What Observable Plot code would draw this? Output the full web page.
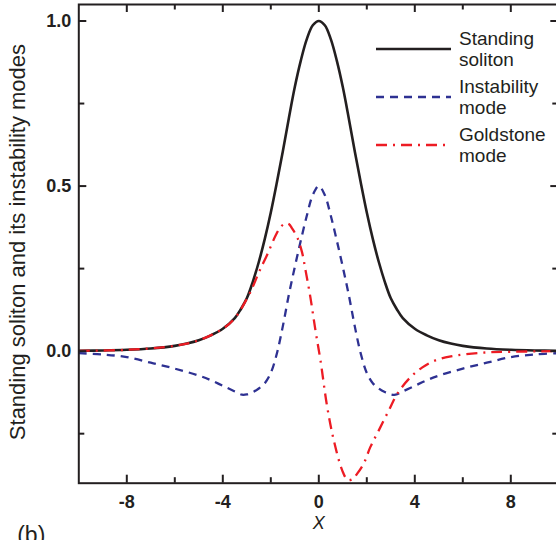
<!DOCTYPE html>
<html>
<head>
<meta charset="utf-8">
<script src="https://cdn.jsdelivr.net/npm/d3@7"></script>
<script src="https://cdn.jsdelivr.net/npm/@observablehq/plot@0.6"></script>
<style>
  html, body { margin: 0; padding: 0; background: #fff; overflow: hidden; }
  #wrap { position: relative; width: 556px; height: 540px; font-family: "Liberation Sans", Arial, Helvetica, sans-serif; }
  #legend { position: absolute; left: 376px; top: 28px; font-size: 19px; line-height: 21px; color: #231f20; }
  .row { display: flex; align-items: center; height: 42px; margin-bottom: 6px; }
  .row svg { display: block; margin-right: 8px; }
</style>
</head>
<body>
<div id="wrap"><div id="legend"></div></div>
<script>
// ---- data ----
const solitonX = [-10,-9,-8,-7,-6,-5.5,-5,-4.5,-4,-3.5,-3.25,-3,-2.75,-2.5,-2.25,-2,-1.75,-1.5,-1.25,-1,-0.75,-0.5,-0.25,0,
                  0.25,0.5,0.75,1,1.25,1.5,1.75,2,2.25,2.5,2.75,3,3.25,3.5,4,4.5,5,5.5,6,7,8,9,10];
const solitonY = [0.001,0.002,0.004,0.008,0.016,0.023,0.033,0.048,0.068,0.1,0.127,0.16,0.21,0.27,0.34,0.42,0.51,0.605,0.705,0.8,0.88,0.945,0.987,1.0,
                  0.987,0.945,0.88,0.8,0.705,0.605,0.51,0.42,0.34,0.27,0.21,0.16,0.127,0.1,0.068,0.048,0.033,0.023,0.016,0.008,0.004,0.002,0.001];

const instabX = [-10,-9,-8,-7,-6,-5,-4.5,-4,-3.5,-3.2,-3,-2.75,-2.5,-2.25,-2,-1.75,-1.5,-1.25,-1,-0.75,-0.5,-0.25,0,
                 0.25,0.5,0.75,1,1.25,1.5,1.75,2,2.25,2.5,2.75,3,3.2,3.5,4,4.5,5,6,7,8,9,10];
const instabY = [-0.006,-0.01,-0.018,-0.035,-0.053,-0.074,-0.088,-0.105,-0.122,-0.132,-0.131,-0.124,-0.113,-0.097,-0.066,-0.008,0.075,0.17,0.255,0.335,0.41,0.473,0.5,
                 0.473,0.41,0.335,0.255,0.17,0.075,-0.008,-0.066,-0.097,-0.113,-0.124,-0.131,-0.132,-0.122,-0.105,-0.088,-0.074,-0.053,-0.035,-0.018,-0.01,-0.006];

const goldX = [-10,-8,-6,-5,-4,-3.5,-3,-2.75,-2.5,-2.15,-1.8,-1.6,-1.4,-1.25,-1.1,-0.9,-0.7,-0.55,-0.35,-0.14,0.07,0.35,0.625,0.975,1.2,1.4,1.6,1.875,2.15,2.5,2.92,3.27,3.82,4.3,4.86,5.5,6.74,8,10];
const goldY = [0.001,0.004,0.016,0.033,0.068,0.1,0.158,0.195,0.238,0.292,0.35,0.375,0.387,0.385,0.37,0.345,0.3,0.244,0.163,0.063,-0.028,-0.169,-0.27,-0.361,-0.39,-0.388,-0.371,-0.34,-0.29,-0.24,-0.179,-0.129,-0.079,-0.05,-0.028,-0.016,-0.005,-0.002,0];

const seriesNames = ["Standing soliton", "Instability mode", "Goldstone mode"];
const legendLines = [["Standing", "soliton"], ["Instability", "mode"], ["Goldstone", "mode"]];
const seriesColors = ["#231f20", "#2e3192", "#ed1c24"];
const seriesDash = [null, "8,6", "11,6,2,6"];
const seriesWidth = [2.6, 2.3, 2.3];

const xTicksMajor = [-8, -4, 0, 4, 8];
const xTicksMinor = [-6, -2, 2, 6];
const yTicksMajor = [0, 0.5, 1.0];
const yTicksMinor = [-0.25, 0.25, 0.75];

const yLabel = "Standing soliton and its instability modes";
const xLabel = "X";
const panelLabel = "(b)";

// ---- build ----
const zip = (xs, ys) => xs.map((x, i) => ({x, y: ys[i]}));
const series = [zip(solitonX, solitonY), zip(instabX, instabY), zip(goldX, goldY)];

const W = 556, H = 540;
const mt = 4, mb = 57.3, ml = 78.3, mr = -2.3;
const innerH = H - mt - mb;
const innerW = W - ml - mr;
const axisColor = "#231f20";
const font = "'Liberation Sans', Arial, Helvetica, sans-serif";

const chart = Plot.plot({
  width: W,
  height: H,
  marginTop: mt,
  marginBottom: mb,
  marginLeft: ml,
  marginRight: mr,
  style: {fontFamily: font, background: "transparent", color: axisColor},
  x: {domain: [-10, 10]},
  y: {domain: [-0.4, 1.05]},
  marks: [
    // curves
    ...series.map((d, i) => Plot.line(d, {
      x: "x", y: "y", curve: "catmull-rom",
      stroke: seriesColors[i], strokeWidth: seriesWidth[i],
      strokeDasharray: seriesDash[i], strokeLinecap: "butt"
    })),
    // frame
    Plot.frame({stroke: axisColor, strokeWidth: 2}),
    // x ticks (bottom & top, pointing inward)
    Plot.tickX(xTicksMajor, {x: d => d, insetTop: innerH - 8, stroke: axisColor, strokeWidth: 2}),
    Plot.tickX(xTicksMinor, {x: d => d, insetTop: innerH - 5.5, stroke: axisColor, strokeWidth: 2}),
    Plot.tickX(xTicksMajor, {x: d => d, insetBottom: innerH - 8, stroke: axisColor, strokeWidth: 2}),
    Plot.tickX(xTicksMinor, {x: d => d, insetBottom: innerH - 5.5, stroke: axisColor, strokeWidth: 2}),
    // y ticks (left & right, pointing inward)
    Plot.tickY(yTicksMajor, {y: d => d, insetRight: innerW - 8, stroke: axisColor, strokeWidth: 2}),
    Plot.tickY(yTicksMinor, {y: d => d, insetRight: innerW - 6, stroke: axisColor, strokeWidth: 2}),
    Plot.tickY(yTicksMajor, {y: d => d, insetLeft: innerW - 8, stroke: axisColor, strokeWidth: 2}),
    Plot.tickY(yTicksMinor, {y: d => d, insetLeft: innerW - 6, stroke: axisColor, strokeWidth: 2}),
    // tick labels
    Plot.axisX(xTicksMajor, {tickSize: 0, tickPadding: 12.5, fontSize: 18, fontWeight: "bold", tickFormat: d => String(d), label: null, fill: axisColor}),
    Plot.axisY(yTicksMajor, {tickSize: 0, tickPadding: 7.5, fontSize: 18, fontWeight: "bold", tickFormat: d => d.toFixed(1), label: null, fill: axisColor}),
    // axis titles
    Plot.text([yLabel], {frameAnchor: "left", textAnchor: "middle", rotate: -90, dx: -60.5, dy: -1.8, fontSize: 22, fill: axisColor}),
    Plot.text([xLabel], {frameAnchor: "bottom", dy: 45.3, fontSize: 18, fontStyle: "italic", fill: axisColor}),
    Plot.text([panelLabel], {frameAnchor: "bottom-left", textAnchor: "start", dx: -61.6, dy: 60, fontSize: 23, fill: axisColor})
  ]
});

const wrap = document.getElementById("wrap");
wrap.insertBefore(chart, wrap.firstChild);

// legend (inside the plot, upper right)
const legend = document.getElementById("legend");
seriesNames.forEach((name, i) => {
  const row = document.createElement("div");
  row.className = "row";
  const ns = "http://www.w3.org/2000/svg";
  const svg = document.createElementNS(ns, "svg");
  svg.setAttribute("width", 75);
  svg.setAttribute("height", 6);
  const ln = document.createElementNS(ns, "line");
  ln.setAttribute("x1", 0); ln.setAttribute("x2", 75);
  ln.setAttribute("y1", 3); ln.setAttribute("y2", 3);
  ln.setAttribute("stroke", seriesColors[i]);
  ln.setAttribute("stroke-width", seriesWidth[i]);
  if (seriesDash[i]) ln.setAttribute("stroke-dasharray", seriesDash[i]);
  svg.appendChild(ln);
  row.appendChild(svg);
  const txt = document.createElement("div");
  txt.innerHTML = legendLines[i].join("<br>");
  txt.title = name;
  row.appendChild(txt);
  legend.appendChild(row);
});
</script>
</body>
</html>
